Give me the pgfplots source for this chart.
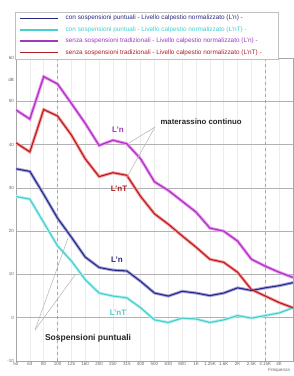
\documentclass[border=0pt]{standalone}
\usepackage{fontspec}
\setmainfont{Liberation Sans}
\usepackage{pgfplots}
\pgfplotsset{compat=1.18}
\definecolor{cblue}{RGB}{40,40,130}
\definecolor{cbluegl}{RGB}{165,165,225}
\definecolor{ccyan}{RGB}{70,205,205}
\definecolor{ccyangl}{RGB}{185,240,240}
\definecolor{cmag}{RGB}{160,55,190}
\definecolor{cmaggl}{RGB}{240,140,240}
\definecolor{cred}{RGB}{175,30,35}
\definecolor{credgl}{RGB}{250,150,150}
\begin{document}
\begin{tikzpicture}
\useasboundingbox (0pt,0pt) rectangle (293pt,376pt);
\begin{axis}[
  at={(16pt,15pt)}, anchor=south west, scale only axis,
  width=277pt, height=303pt,
  xmin=0, xmax=20, ymin=-10, ymax=60,
  axis line style={gray!70},
  ytick={-10,0,10,20,30,40,50,60},
  extra y ticks={55}, extra y tick labels={dB}, extra y tick style={grid=none},
  xtick={0,...,19},
  xticklabels={50,63,80,100,125,160,200,250,315,400,500,630,800,1K,1.25K,1.6K,2K,2.5K,3.15K,4K},
  tick style={draw=none},
  xmajorgrids, ymajorgrids,
  major x grid style={gray!15, line width=0.6pt},
  major y grid style={gray!60, line width=0.6pt},
  /pgf/number format/assume math mode=true,
  ticklabel style={font=\fontsize{4.5}{5}\selectfont, text=gray!80!black},
  x tick label style={inner sep=1pt},
  y tick label style={inner sep=2pt},
  legend style={at={(-0.004,1.152)}, anchor=north west, draw=gray!50,
    font=\fontsize{6.4}{7}\selectfont, row sep=1.2pt, inner xsep=4pt, inner ysep=1.2pt},
  legend cell align=left,
  legend image code/.code={\draw[#1, line width=1.6pt] (0pt,0pt) -- (38pt,0pt);},
]
\draw[gray!70, dashed] (axis cs:3,-10) -- (axis cs:3,60);
\draw[gray!70, dashed] (axis cs:18,-10) -- (axis cs:18,60);
% glows
\addplot[cbluegl, line width=3pt, forget plot] coordinates {(0,34.4)(1,33.8)(2,28.5)(3,23.0)(4,18.6)(5,14.0)(6,11.6)(7,11.0)(8,10.8)(9,8.4)(10,5.7)(11,5.0)(12,6.1)(13,5.7)(14,5.1)(15,5.7)(16,6.9)(17,6.3)(18,6.9)(19,7.4)(20,8.1)};
\addplot[ccyangl, line width=3pt, forget plot] coordinates {(0,28.0)(1,27.4)(2,22.0)(3,16.6)(4,13.1)(5,8.8)(6,5.7)(7,5.0)(8,4.6)(9,2.3)(10,-0.5)(11,-1.1)(12,-0.1)(13,-0.3)(14,-1.1)(15,-0.5)(16,0.5)(17,-0.1)(18,0.5)(19,1.1)(20,2.3)};
\addplot[cmaggl, line width=3pt, forget plot] coordinates {(0,48.0)(1,45.9)(2,55.7)(3,54.0)(4,49.5)(5,44.9)(6,39.8)(7,41.0)(8,40.2)(9,36.7)(10,31.4)(11,29.4)(12,26.9)(13,24.4)(14,20.7)(15,20.0)(16,17.7)(17,13.5)(18,11.9)(19,10.5)(20,9.3)};
\addplot[credgl, line width=3pt, forget plot] coordinates {(0,40.4)(1,38.3)(2,48.1)(3,46.6)(4,42.2)(5,36.7)(6,32.6)(7,33.5)(8,32.9)(9,28.0)(10,24.0)(11,21.6)(12,18.9)(13,16.3)(14,13.5)(15,12.8)(16,10.5)(17,6.5)(18,5.0)(19,3.5)(20,2.3)};
% main lines
\addplot[cblue, line width=1.1pt] coordinates {(0,34.4)(1,33.8)(2,28.5)(3,23.0)(4,18.6)(5,14.0)(6,11.6)(7,11.0)(8,10.8)(9,8.4)(10,5.7)(11,5.0)(12,6.1)(13,5.7)(14,5.1)(15,5.7)(16,6.9)(17,6.3)(18,6.9)(19,7.4)(20,8.1)};
\addlegendentry{\makebox[212pt][l]{\hspace{5pt}\textcolor{cblue}{con sospensioni puntuali - Livello calpestio normalizzato (L'n) -}}}
\addplot[ccyan, line width=1.1pt] coordinates {(0,28.0)(1,27.4)(2,22.0)(3,16.6)(4,13.1)(5,8.8)(6,5.7)(7,5.0)(8,4.6)(9,2.3)(10,-0.5)(11,-1.1)(12,-0.1)(13,-0.3)(14,-1.1)(15,-0.5)(16,0.5)(17,-0.1)(18,0.5)(19,1.1)(20,2.3)};
\addlegendentry{\hspace{5pt}\textcolor{ccyan}{con sospensioni puntuali - Livello calpestio normalizzato (L'nT) -}}
\addplot[cmag, line width=1.1pt] coordinates {(0,48.0)(1,45.9)(2,55.7)(3,54.0)(4,49.5)(5,44.9)(6,39.8)(7,41.0)(8,40.2)(9,36.7)(10,31.4)(11,29.4)(12,26.9)(13,24.4)(14,20.7)(15,20.0)(16,17.7)(17,13.5)(18,11.9)(19,10.5)(20,9.3)};
\addlegendentry{\hspace{5pt}\textcolor{cmag}{senza sospensioni tradizionali - Livello calpestio normalizzato (L'n) -}}
\addplot[cred, line width=1.1pt] coordinates {(0,40.4)(1,38.3)(2,48.1)(3,46.6)(4,42.2)(5,36.7)(6,32.6)(7,33.5)(8,32.9)(9,28.0)(10,24.0)(11,21.6)(12,18.9)(13,16.3)(14,13.5)(15,12.8)(16,10.5)(17,6.5)(18,5.0)(19,3.5)(20,2.3)};
\addlegendentry{\hspace{5pt}\textcolor{cred}{senza sospensioni tradizionali - Livello calpestio normalizzato (L'nT) -}}
\end{axis}
% annotations
\draw[gray!60, line width=0.5pt] (155pt,249pt) -- (129pt,233pt);
\draw[gray!60, line width=0.5pt] (155pt,249pt) -- (127pt,199pt);
\draw[gray!60, line width=0.5pt] (35pt,46pt) -- (68pt,138pt);
\draw[gray!60, line width=0.5pt] (35pt,46pt) -- (75pt,101pt);
\node[font=\fontsize{8}{9}\selectfont\bfseries, text=cmag] at (118pt,246pt) {L'n};
\node[font=\fontsize{8}{9}\selectfont\bfseries, text=cred] at (119pt,187pt) {L'nT};
\node[font=\fontsize{8}{9}\selectfont\bfseries, text=cblue] at (117pt,116pt) {L'n};
\node[font=\fontsize{8}{9}\selectfont\bfseries, text=ccyan] at (118pt,63pt) {L'nT};
\node[font=\fontsize{7.8}{9}\selectfont\bfseries, text=black!85, anchor=west] at (157pt,254pt) {materassino continuo};
\node[font=\fontsize{8.5}{10}\selectfont\bfseries, text=black!85] at (88pt,38pt) {Sospensioni puntuali};
\node[font=\fontsize{4.5}{5}\selectfont, text=gray!80!black, anchor=east, inner sep=1pt] at (291pt,6pt) {Frequenza};
\end{tikzpicture}
\end{document}
